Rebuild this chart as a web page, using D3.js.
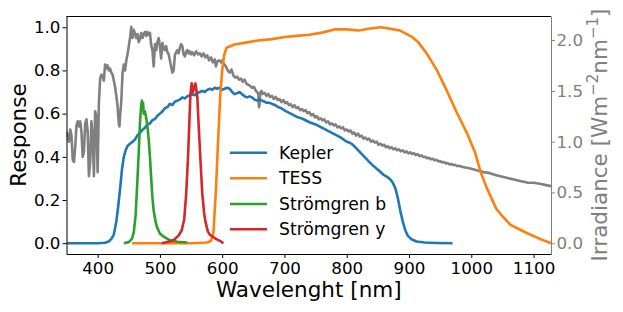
<!DOCTYPE html>
<html>
<head>
<meta charset="utf-8">
<script src="https://cdn.jsdelivr.net/npm/d3@7"></script>
<style>
body { margin: 0; background: #fff; }
svg { font-family: "DejaVu Sans", sans-serif; }
</style>
</head>
<body>
<svg id="chart" width="623" height="312"></svg>
<script>
// [wavelength nm, response]
var kepler = [[350,0],[400,0],[412,0.002],[418,0.008],[422,0.02],[426,0.04],[430,0.10],[433,0.17],[436,0.25],[439,0.34],[442,0.40],[445,0.43],[448,0.45],[452,0.46],[456,0.47],[460,0.48],[464,0.50],[468,0.51],[472,0.525],[476,0.535],[480,0.55],[484,0.555],[488,0.57],[492,0.575],[496,0.59],[500,0.60],[504,0.61],[508,0.625],[512,0.63],[516,0.645],[520,0.64],[524,0.655],[528,0.66],[532,0.665],[536,0.675],[540,0.67],[544,0.68],[548,0.685],[552,0.69],[556,0.685],[560,0.695],[564,0.70],[568,0.705],[572,0.70],[576,0.71],[580,0.715],[584,0.71],[588,0.72],[592,0.715],[596,0.72],[600,0.71],[604,0.715],[608,0.72],[612,0.715],[616,0.70],[620,0.69],[624,0.695],[628,0.70],[632,0.69],[636,0.68],[640,0.675],[644,0.68],[648,0.675],[652,0.665],[656,0.66],[660,0.665],[664,0.66],[668,0.655],[672,0.65],[676,0.65],[680,0.645],[685,0.64],[690,0.63],[695,0.625],[700,0.615],[710,0.60],[720,0.585],[730,0.575],[740,0.56],[750,0.55],[760,0.535],[770,0.52],[780,0.505],[790,0.49],[800,0.47],[805,0.465],[810,0.455],[815,0.44],[820,0.425],[830,0.395],[840,0.365],[850,0.34],[860,0.315],[866,0.305],[870,0.295],[874,0.28],[878,0.255],[882,0.21],[886,0.15],[890,0.10],[894,0.06],[898,0.035],[904,0.018],[912,0.008],[925,0.003],[945,0.001],[970,0]];

var tess = [[455,0],[500,0],[550,0],[575,0.003],[582,0.01],[586,0.05],[590,0.25],[593,0.45],[597,0.69],[600,0.80],[603,0.87],[607,0.905],[620,0.92],[640,0.93],[660,0.94],[680,0.945],[700,0.955],[720,0.96],[740,0.965],[760,0.975],[780,0.99],[800,0.99],[820,0.985],[840,0.995],[855,1.0],[865,0.995],[875,0.99],[885,0.985],[895,0.97],[905,0.955],[915,0.93],[928,0.88],[945,0.80],[960,0.71],[976,0.61],[993,0.51],[1006,0.42],[1015,0.33],[1025,0.255],[1040,0.16],[1050,0.125],[1063,0.085],[1080,0.06],[1090,0.046],[1111,0.019],[1128,0]];

var stromB = [[442,0],[450,0.005],[455,0.02],[458,0.05],[461,0.13],[464,0.30],[466,0.42],[468,0.56],[470,0.64],[471,0.66],[472,0.62],[473,0.65],[474,0.60],[476,0.61],[478,0.58],[480,0.54],[482,0.48],[484,0.40],[486,0.30],[488,0.21],[490,0.15],[493,0.10],[496,0.07],[500,0.045],[506,0.03],[515,0.015],[528,0.007],[544,0.003]];

var stromY = [[503,0],[515,0.008],[522,0.015],[530,0.035],[535,0.06],[539,0.11],[542,0.22],[545,0.39],[547,0.54],[549,0.69],[551,0.74],[553,0.70],[555,0.72],[557,0.74],[559,0.70],[560,0.68],[562,0.56],[565,0.39],[568,0.23],[571,0.14],[573,0.10],[577,0.055],[580,0.04],[585,0.03],[590,0.02],[597,0.01],[602,0]];

// [wavelength nm, irradiance W m^-2 nm^-1]
var solar = [[350,1.10],[352,1.05],[354,1.0],[356,1.12],[358,1.06],[360,0.82],[362,0.80],[364,0.95],[366,1.16],[368,1.20],[370,1.15],[372,1.20],[374,1.10],[376,0.85],[378,0.90],[380,1.18],[382,1.22],[384,1.10],[386,0.66],[388,0.80],[390,1.20],[392,1.05],[394,0.66],[396,1.30],[398,1.25],[400,0.70],[402,1.38],[404,1.62],[406,1.66],[408,1.64],[410,1.60],[412,1.76],[414,1.72],[416,1.75],[418,1.70],[420,1.72],[422,1.68],[424,1.66],[426,1.60],[428,1.54],[430,1.45],[432,1.35],[434,1.18],[435,1.15],[436,1.25],[438,1.40],[440,1.68],[442,1.76],[444,1.70],[446,1.80],[448,1.86],[450,1.94],[452,2.02],[454,2.13],[456,2.02],[458,2.10],[460,2.06],[462,2.02],[464,2.06],[466,1.98],[468,2.01],[470,2.07],[472,2.02],[474,2.06],[476,2.08],[478,2.04],[480,2.08],[482,2.05],[484,2.07],[486,1.95],[488,1.90],[490,1.74],[492,1.96],[494,1.90],[496,1.98],[498,2.02],[500,1.94],[502,1.82],[504,1.97],[506,1.92],[508,1.90],[510,1.94],[512,1.88],[514,1.86],[516,1.80],[518,1.74],[520,1.68],[522,1.70],[524,1.85],[526,1.88],[528,1.90],[530,1.87],[532,1.92],[534,1.96],[536,1.94],[538,1.86],[540,1.84],[542,1.88],[544,1.90],[546,1.87],[548,1.89],[550,1.86],[552,1.88],[555,1.85],[558,1.89],[561,1.86],[564,1.87],[567,1.84],[570,1.87],[573,1.83],[576,1.85],[579,1.80],[582,1.83],[585,1.78],[588,1.81],[590,1.74],[592,1.79],[595,1.80],[598,1.78],[600,1.80],[603,1.76],[606,1.74],[609,1.70],[612,1.68],[615,1.71],[618,1.65],[621,1.63],[624,1.64],[627,1.61],[630,1.62],[633,1.59],[636,1.61],[639,1.57],[642,1.56],[645,1.55],[648,1.53],[651,1.54],[654,1.50],[656,1.49],[658,1.47],[659,1.34],[660,1.36],[661,1.48],[663,1.50],[665,1.47],[668,1.48],[671,1.45],[674,1.47],[677,1.44],[680,1.45],[683,1.42],[686,1.44],[689,1.41],[692,1.42],[695,1.39],[698,1.41],[701,1.38],[704,1.39],[707,1.36],[710,1.37],[713,1.34],[716,1.36],[719,1.33],[722,1.34],[725,1.31],[728,1.32],[731,1.30],[734,1.31],[737,1.28],[740,1.29],[743,1.26],[746,1.27],[749,1.24],[752,1.25],[755,1.22],[758,1.23],[761,1.21],[764,1.22],[767,1.19],[770,1.20],[773,1.17],[776,1.18],[779,1.16],[782,1.17],[785,1.14],[788,1.15],[791,1.13],[794,1.14],[797,1.11],[800,1.12],[803,1.10],[806,1.11],[809,1.08],[812,1.09],[815,1.06],[818,1.08],[821,1.05],[824,1.06],[827,1.03],[830,1.04],[833,1.02],[836,1.03],[839,1.00],[842,1.01],[845,0.99],[848,1.00],[851,0.97],[854,0.98],[857,0.96],[860,0.97],[863,0.945],[866,0.955],[869,0.935],[872,0.945],[875,0.925],[878,0.935],[881,0.915],[884,0.925],[887,0.905],[890,0.915],[893,0.895],[896,0.905],[899,0.885],[902,0.895],[905,0.878],[908,0.888],[911,0.868],[914,0.878],[917,0.858],[920,0.865],[923,0.848],[926,0.852],[929,0.837],[932,0.842],[935,0.826],[938,0.832],[941,0.816],[944,0.822],[947,0.806],[950,0.81],[953,0.796],[956,0.80],[959,0.786],[962,0.79],[965,0.776],[968,0.78],[971,0.77],[974,0.772],[977,0.76],[980,0.762],[985,0.752],[990,0.745],[995,0.74],[1000,0.733],[1010,0.715],[1020,0.70],[1030,0.69],[1040,0.67],[1050,0.655],[1060,0.64],[1070,0.625],[1080,0.61],[1090,0.597],[1100,0.595],[1110,0.585],[1120,0.572],[1128,0.562]];

var seriesNames = ["Kepler", "TESS", "Strömgren b", "Strömgren y"];
var seriesColors = ["#1f77b4", "#ff7f0e", "#2ca02c", "#d62728"];
var seriesData = [kepler, tess, stromB, stromY];

var xTicks = [400, 500, 600, 700, 800, 900, 1000, 1100];
var yTicksLeft = [0, 0.2, 0.4, 0.6, 0.8, 1.0];
var yTicksRight = [0, 0.5, 1.0, 1.5, 2.0];

var plotLeft = 66.5, plotRight = 551, plotTop = 16, plotBottom = 254;
var tickFont = 16.7, labelFont = 21.5, legendFont = 17.2;

var svg = d3.select("#chart");

var x = d3.scaleLinear().domain([350, 1128]).range([plotLeft, plotRight]);
var yL = d3.scaleLinear().domain([-0.05, 1.052]).range([plotBottom, plotTop]);
var yR = d3.scaleLinear().domain([-0.106, 2.237]).range([plotBottom, plotTop]);

svg.append("clipPath").attr("id", "plotclip")
    .append("rect")
    .attr("x", plotLeft).attr("y", plotTop)
    .attr("width", plotRight - plotLeft).attr("height", plotBottom - plotTop);

var plot = svg.append("g").attr("clip-path", "url(#plotclip)");

// solar spectrum on the right axis
plot.append("path")
    .datum(solar)
    .attr("fill", "none")
    .attr("stroke", "#808080")
    .attr("stroke-width", 2.6)
    .attr("stroke-linejoin", "round")
    .attr("d", d3.line().x(function (d) { return x(d[0]); }).y(function (d) { return yR(d[1]); }));

for (var i = 0; i < seriesData.length; i++) {
    plot.append("path")
        .datum(seriesData[i])
        .attr("fill", "none")
        .attr("stroke", seriesColors[i])
        .attr("stroke-width", 2.6)
        .attr("stroke-linejoin", "round")
        .attr("d", d3.line().x(function (d) { return x(d[0]); }).y(function (d) { return yL(d[1]); }));
}

// axes
var xAxis = svg.append("g")
    .attr("transform", "translate(0," + plotBottom + ")")
    .call(d3.axisBottom(x).tickValues(xTicks).tickSize(4).tickSizeOuter(0).tickPadding(4).tickFormat(d3.format("d")));

var yAxisL = svg.append("g")
    .attr("transform", "translate(" + plotLeft + ",0)")
    .call(d3.axisLeft(yL).tickValues(yTicksLeft).tickSize(4).tickSizeOuter(0).tickPadding(2).tickFormat(d3.format(".1f")));

var yAxisR = svg.append("g")
    .attr("transform", "translate(" + plotRight + ",0)")
    .call(d3.axisRight(yR).tickValues(yTicksRight).tickSize(4).tickSizeOuter(0).tickPadding(1.5).tickFormat(d3.format(".1f")));

[xAxis, yAxisL].forEach(function (a) {
    a.selectAll("text").attr("font-size", tickFont).attr("font-family", "DejaVu Sans").attr("fill", "#000");
    a.selectAll("line").attr("stroke", "#000").attr("stroke-width", 1);
    a.select(".domain").attr("stroke", "#000").attr("stroke-width", 1);
});
yAxisR.selectAll("text").attr("font-size", tickFont).attr("font-family", "DejaVu Sans").attr("fill", "#808080");
yAxisR.selectAll("line").attr("stroke", "#808080").attr("stroke-width", 1);
yAxisR.select(".domain").attr("stroke", "#808080").attr("stroke-width", 1);

// top spine
svg.append("line")
    .attr("x1", plotLeft).attr("x2", plotRight)
    .attr("y1", plotTop + 0.5).attr("y2", plotTop + 0.5)
    .attr("stroke", "#000").attr("stroke-width", 1);

// axis labels
svg.append("text")
    .attr("x", (plotLeft + plotRight) / 2).attr("y", 297)
    .attr("text-anchor", "middle")
    .attr("font-size", labelFont)
    .attr("fill", "#000")
    .text("Wavelenght [nm]");

svg.append("text")
    .attr("transform", "translate(25.5," + (plotTop + plotBottom) / 2 + ") rotate(-90)")
    .attr("text-anchor", "middle")
    .attr("font-size", labelFont)
    .attr("fill", "#000")
    .text("Response");

var rLabel = svg.append("text")
    .attr("transform", "translate(606.5," + (plotTop + plotBottom) / 2 + ") rotate(-90)")
    .attr("text-anchor", "middle")
    .attr("font-size", labelFont)
    .attr("fill", "#808080");
rLabel.append("tspan").text("Irradiance [Wm");
rLabel.append("tspan").attr("dy", -8.5).attr("font-size", 15).text("\u22122");
rLabel.append("tspan").attr("dy", 8.5).text("nm");
rLabel.append("tspan").attr("dy", -8.5).attr("font-size", 15).text("\u22121");
rLabel.append("tspan").attr("dy", 8.5).text("]");

// legend
var legendY = [152.7, 178.3, 204, 229.3];
for (var j = 0; j < seriesNames.length; j++) {
    svg.append("line")
        .attr("x1", 230).attr("x2", 267)
        .attr("y1", legendY[j]).attr("y2", legendY[j])
        .attr("stroke", seriesColors[j])
        .attr("stroke-width", 2.6);
    svg.append("text")
        .attr("x", 279).attr("y", legendY[j])
        .attr("dy", "0.36em")
        .attr("font-size", legendFont)
        .attr("fill", "#000")
        .text(seriesNames[j]);
}
</script>
</body>
</html>
